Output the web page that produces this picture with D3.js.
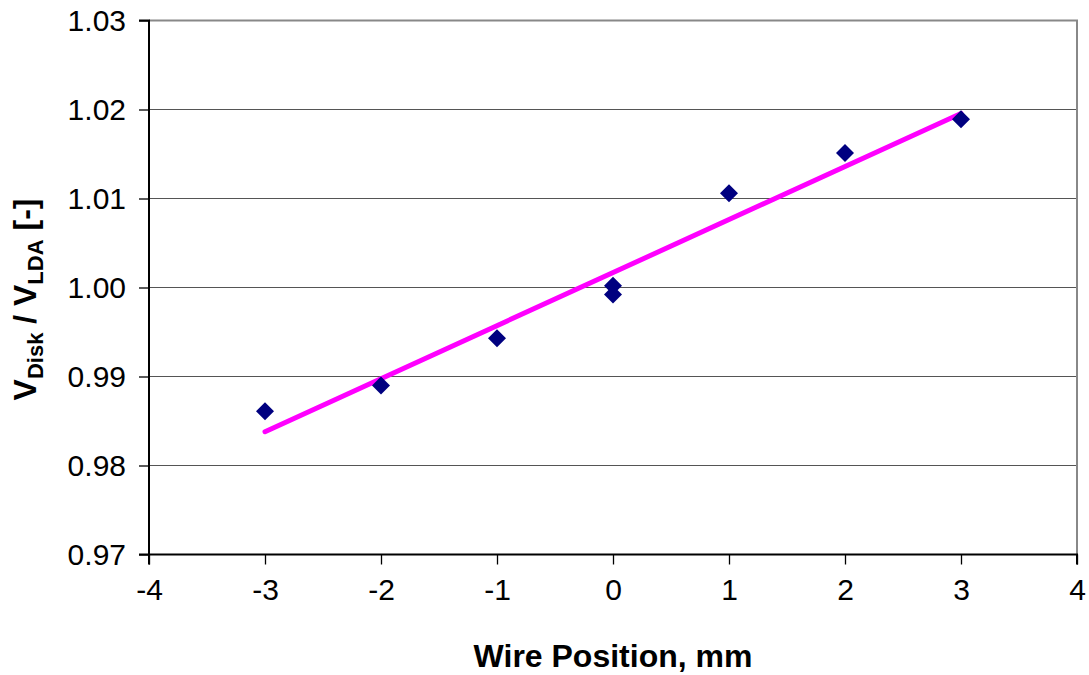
<!DOCTYPE html>
<html><head><meta charset="utf-8">
<script src="https://cdn.jsdelivr.net/npm/d3@7/dist/d3.min.js"></script>
<style>
html,body{margin:0;padding:0;background:#fff;}
svg{display:block;font-family:"Liberation Sans",Arial,sans-serif;}
</style></head>
<body><svg id="c" width="1089" height="675"></svg>
<script>
const positions = [-3, -2, -1, 0, 0, 1, 2, 3];
const ratios = [0.9861, 0.9890, 0.9943, 1.0002, 0.9992, 1.0106, 1.0151, 1.0189];
const xTicks = [-4, -3, -2, -1, 0, 1, 2, 3, 4];
const yTicks = [0.97, 0.98, 0.99, 1.00, 1.01, 1.02, 1.03];
const xTitle = "Wire Position, mm";

const svg = d3.select("#c");
const L = 149, R = 1077, T = 20.5, B = 554.5;
const x = d3.scaleLinear().domain([-4, 4]).range([L, R]);
const y = d3.scaleLinear().domain([0.97, 1.03]).range([B, T]);

// gridlines
svg.append("g").selectAll("line").data(yTicks.filter(v => v > 0.975 && v < 1.025)).join("line")
  .attr("x1", L).attr("x2", R).attr("y1", d => y(d)).attr("y2", d => y(d))
  .attr("stroke", "#555").attr("stroke-width", 1.2);

// top and right border
svg.append("path").attr("d", `M${L},${T}H${R}V${B}`).attr("fill", "none")
  .attr("stroke", "#888").attr("stroke-width", 2);

// axes
const xAxis = d3.axisBottom(x).tickValues(xTicks).tickSize(10).tickPadding(14).tickFormat(d3.format("d"));
const gx = svg.append("g").attr("transform", `translate(0,${B})`).call(xAxis);
const yAxis = d3.axisLeft(y).tickValues(yTicks).tickSize(10).tickPadding(13).tickFormat(d3.format(".2f"));
const gy = svg.append("g").attr("transform", `translate(${L},0)`).call(yAxis);
[gx, gy].forEach(g => {
  g.select(".domain").attr("stroke", "#000").attr("stroke-width", 2);
  g.selectAll(".tick line").attr("stroke", "#000").attr("stroke-width", 1.3);
  g.selectAll(".tick text").attr("font-size", 30).attr("fill", "#000")
    .attr("font-family", "Liberation Sans, Arial, sans-serif");
});
gx.select(".domain").attr("d", `M${L},10V0H${R}V10`);
gy.select(".domain").attr("d", `M-10,${T}H0V${B}H-10`);
gx.selectAll(".tick text").text(d => d < 0 ? "-" + Math.abs(d) : d);

// trend line (least squares)
const mx = d3.mean(positions), my = d3.mean(ratios);
const slope = d3.sum(positions, (p, i) => (p - mx) * (ratios[i] - my)) / d3.sum(positions, p => (p - mx) ** 2);
const icpt = my - slope * mx;
const xe = d3.extent(positions);
svg.append("line")
  .attr("x1", x(xe[0])).attr("y1", y(icpt + slope * xe[0]))
  .attr("x2", x(xe[1])).attr("y2", y(icpt + slope * xe[1]))
  .attr("stroke", "#ff00ff").attr("stroke-width", 5).attr("stroke-linecap", "round");

// points
const s = 9;
svg.append("g").selectAll("path").data(positions.map((p, i) => [p, ratios[i]])).join("path")
  .attr("d", d => `M${x(d[0])},${y(d[1]) - s}L${x(d[0]) + s},${y(d[1])}L${x(d[0])},${y(d[1]) + s}L${x(d[0]) - s},${y(d[1])}Z`)
  .attr("fill", "#000080");

// x title
svg.append("text").attr("x", (L + R) / 2).attr("y", 667).attr("text-anchor", "middle")
  .attr("font-size", 32).attr("font-weight", "bold").text(xTitle);

// y title
const yt = svg.append("text").attr("transform", `translate(36,${(T + B) / 2 + 12}) rotate(-90)`)
  .attr("text-anchor", "middle").attr("font-size", 32).attr("font-weight", "bold");
yt.append("tspan").text("V");
yt.append("tspan").attr("font-size", 22).attr("dy", 7).text("Disk");
yt.append("tspan").attr("dy", -7).text(" / V");
yt.append("tspan").attr("font-size", 22).attr("dy", 7).text("LDA");
yt.append("tspan").attr("dy", -7).text(" [-]");
</script></body></html>
